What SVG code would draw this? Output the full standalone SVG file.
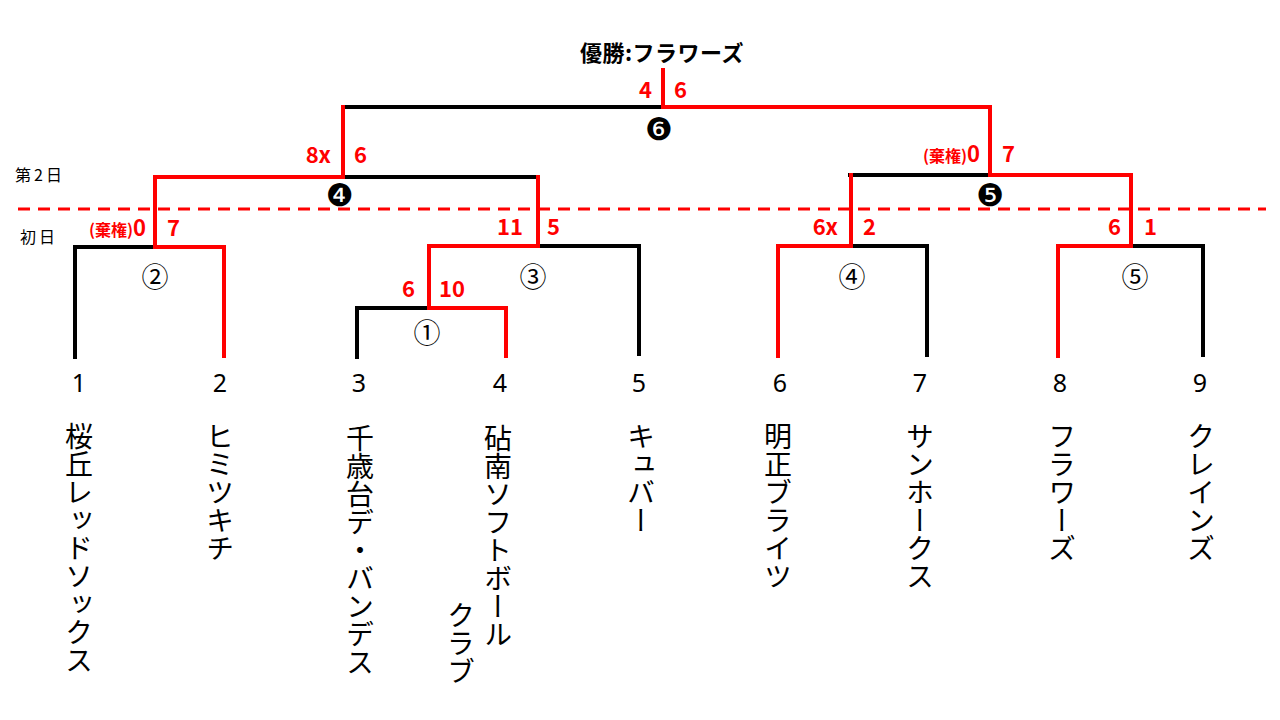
<svg xmlns="http://www.w3.org/2000/svg" width="1280" height="720" viewBox="0 0 1280 720">
<style>
.bk{stroke:#000;stroke-width:4;fill:none;stroke-linecap:square}
.rd{stroke:#ff0000;stroke-width:4;fill:none;stroke-linecap:square}
.dash{stroke:#ff0000;stroke-width:3;stroke-dasharray:12 8;fill:none}
.sc{font-family:"Noto Sans CJK JP","Noto Sans",sans-serif;font-weight:bold;fill:#ff0000;font-size:22px}
.ki{font-size:16px}
.num{font-family:"Noto Sans","Liberation Sans",sans-serif;font-size:25px;fill:#000;text-anchor:middle}
.nm{font-family:"Noto Sans CJK JP",sans-serif;font-size:28px;fill:#000;writing-mode:vertical-rl}
.cir{font-family:"Noto Sans CJK JP","DejaVu Sans",sans-serif;font-size:27px;fill:#000;text-anchor:middle;dominant-baseline:central}
.ncir{font-family:"DejaVu Sans","Noto Sans CJK JP",sans-serif;font-size:31px;fill:#000;text-anchor:middle;dominant-baseline:central}
.day{font-family:"Noto Sans CJK JP",sans-serif;font-size:16px;fill:#000;letter-spacing:3px}
</style>
<rect width="1280" height="720" fill="#fff"/>
<g id="title"><text x="662" y="61" text-anchor="middle" font-family="Noto Sans CJK JP, sans-serif" font-weight="bold" font-size="22" letter-spacing="0.5">優勝:フラワーズ</text></g>
<g id="days">
<text class="day" x="15" y="181">第2日</text>
<text class="day" x="20" y="243">初日</text>
<line class="dash" x1="18" y1="209" x2="1266" y2="209"/>
</g>
<g id="connectors">
<g class="bk">
<polyline points="343,107 663,107"/>
<polyline points="343,177 538,177"/>
<polyline points="75,357 75,247 155,247"/>
<polyline points="538,246 639,246 639,354"/>
<polyline points="357,357 357,308 429,308"/>
<polyline points="850,175 990,175"/>
<polyline points="851,246 927,246 927,355"/>
<polyline points="1131,246 1203,246 1203,355"/>
</g>
<g class="rd">
<polyline points="663,70 663,107 990,107 990,175 1131,175 1131,246 1058,246 1058,356"/>
<polyline points="343,107 343,177 155,177 155,247 224,247 224,356"/>
<polyline points="538,177 538,246 429,246 429,308 506,308 506,356"/>
<polyline points="851,175 851,246 778,246 778,356"/>
</g>
</g>
<g id="scores">
<text class="sc" x="652" y="98" text-anchor="end">4</text>
<text class="sc" x="674" y="98">6</text>
<text class="sc" x="331" y="163" text-anchor="end">8x</text>
<text class="sc" x="354" y="163">6</text>
<text class="sc" x="146" y="236" text-anchor="end"><tspan class="ki">(棄権)</tspan>0</text>
<text class="sc" x="167" y="236">7</text>
<text class="sc" x="523" y="235" text-anchor="end">11</text>
<text class="sc" x="547" y="235">5</text>
<text class="sc" x="415" y="297" text-anchor="end">6</text>
<text class="sc" x="439" y="297">10</text>
<text class="sc" x="980" y="162" text-anchor="end"><tspan class="ki">(棄権)</tspan>0</text>
<text class="sc" x="1002" y="162">7</text>
<text class="sc" x="838" y="235" text-anchor="end">6x</text>
<text class="sc" x="863" y="235">2</text>
<text class="sc" x="1121" y="235" text-anchor="end">6</text>
<text class="sc" x="1144" y="235">1</text>
</g>
<g id="matches">
<text class="cir" x="155" y="275">②</text>
<text class="cir" x="427" y="331">①</text>
<text class="cir" x="533" y="275">③</text>
<text class="cir" x="852" y="275">④</text>
<text class="cir" x="1135" y="275">⑤</text>
<text class="ncir" x="340" y="195">❹</text>
<text class="ncir" x="990" y="195">❺</text>
<text class="ncir" x="659" y="129">❻</text>
</g>
<g id="team1"><text class="num" x="79" y="392">1</text><text class="nm" x="79" y="422">桜丘レッドソックス</text></g>
<g id="team2"><text class="num" x="220" y="392">2</text><text class="nm" x="220" y="422">ヒミツキチ</text></g>
<g id="team3"><text class="num" x="359" y="392">3</text><text class="nm" x="360" y="424">千歳台デ・バンデス</text></g>
<g id="team4"><text class="num" x="500" y="392">4</text><text class="nm" x="498" y="424">砧南ソフトボール</text><text class="nm" x="461" y="601">クラブ</text></g>
<g id="team5"><text class="num" x="639" y="392">5</text><text class="nm" x="641" y="422">キュバー</text></g>
<g id="team6"><text class="num" x="780" y="392">6</text><text class="nm" x="778" y="422">明正ブライツ</text></g>
<g id="team7"><text class="num" x="920" y="392">7</text><text class="nm" x="920" y="422">サンホークス</text></g>
<g id="team8"><text class="num" x="1060" y="392">8</text><text class="nm" x="1062" y="422">フラワーズ</text></g>
<g id="team9"><text class="num" x="1200" y="392">9</text><text class="nm" x="1201" y="422">クレインズ</text></g>
</svg>
